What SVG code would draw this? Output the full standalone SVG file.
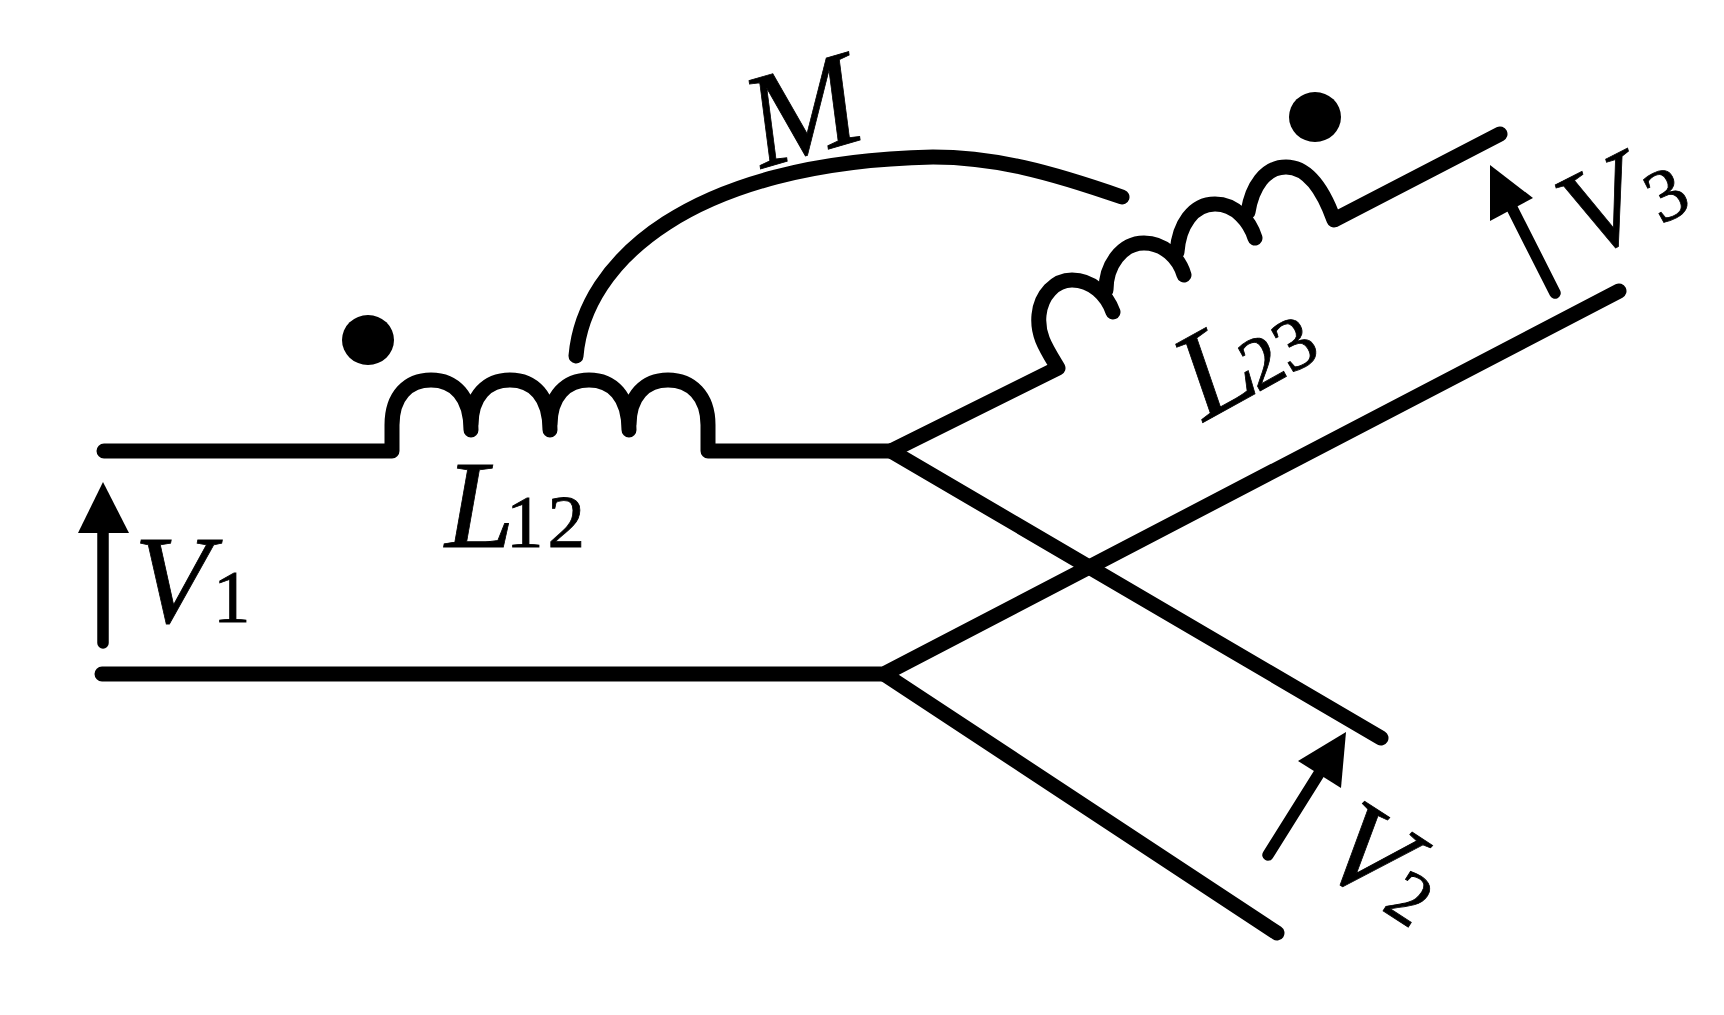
<svg xmlns="http://www.w3.org/2000/svg" width="1724" height="1015" viewBox="0 0 1724 1015">
<style>
.w{fill:none;stroke:#000;stroke-width:15;stroke-linecap:round;stroke-linejoin:round}
.a{fill:none;stroke:#000;stroke-width:11.5;stroke-linecap:round}
.h{fill:#000}
text{font-family:"Liberation Serif","Times New Roman",serif;font-size:125px;fill:#000;stroke:#000;stroke-width:.8}
.i{font-style:italic}
.d{font-size:75px;font-style:normal}
</style>
<rect width="1724" height="1015" fill="#fff"/>
<g id="connectors">
<path class="w" d="M104 451H392V425C392 396 408 380 431 380C454 380 471 396 471 430M471 425C471 396 487 380 510 380C533 380 550 396 550 430M550 425C550 396 566 380 589 380C612 380 629 396 629 430M629 425C629 396 645 380 668 380C691 380 708 396 708 425V451H891"/>
<path class="w" d="M891 451L1058 368C1046 348 1037 335 1039 315C1041 295 1055 280 1072 280C1092 280 1107 295 1113 312M1106 290C1106 265 1122 243 1144 243C1164 243 1179 258 1184 275M1177 252C1179 225 1193 204 1215 204C1236 204 1250 222 1255 238M1248 212C1252 187 1265 167 1286 167C1310 167 1325 195 1334 220L1500 134"/>
<path class="w" d="M891 451L1381 738"/>
<path class="w" d="M102 674H884L1619 291"/>
<path class="w" d="M884 674L1277 933"/>
<path class="w" d="M576 356C584 262 690 162 933 157C995 157 1050 172 1122 197"/>
</g>
<g id="arrow-v1"><path class="a" d="M103 643V525"/><path class="h" d="M103 482L129 533H78Z"/></g>
<g id="arrow-v2"><path class="a" d="M1268 855L1320 772"/><path class="h" d="M1346 732L1341 788L1298 761Z"/></g>
<g id="arrow-v3"><path class="a" d="M1555 293L1510 204"/><path class="h" d="M1490 165L1533 198L1490 221Z"/></g>
<g id="dot-1"><ellipse cx="368" cy="340" rx="26" ry="25"/></g>
<g id="dot-2"><ellipse cx="1315" cy="117" rx="26" ry="25"/></g>
<g id="label-m"><text transform="matrix(.96 -.28 .14 1.08 757 170)">M</text></g>
<g id="label-l12"><text class="i" x="445" y="547">L<tspan class="d" x="506" letter-spacing="4">12</tspan></text></g>
<g id="label-l23"><text class="i" transform="translate(1204 422) rotate(-29)">L<tspan class="d" x="61">23</tspan></text></g>
<g id="label-v1"><text class="i" x="134" y="622">V<tspan class="d" x="213">1</tspan></text></g>
<g id="label-v2"><text class="i" transform="translate(1314 866) rotate(33)">V<tspan class="d" x="79">2</tspan></text></g>
<g id="label-v3"><text class="i" transform="translate(1586 261) rotate(-27)">V<tspan class="d" x="83" y="2">3</tspan></text></g>
</svg>
